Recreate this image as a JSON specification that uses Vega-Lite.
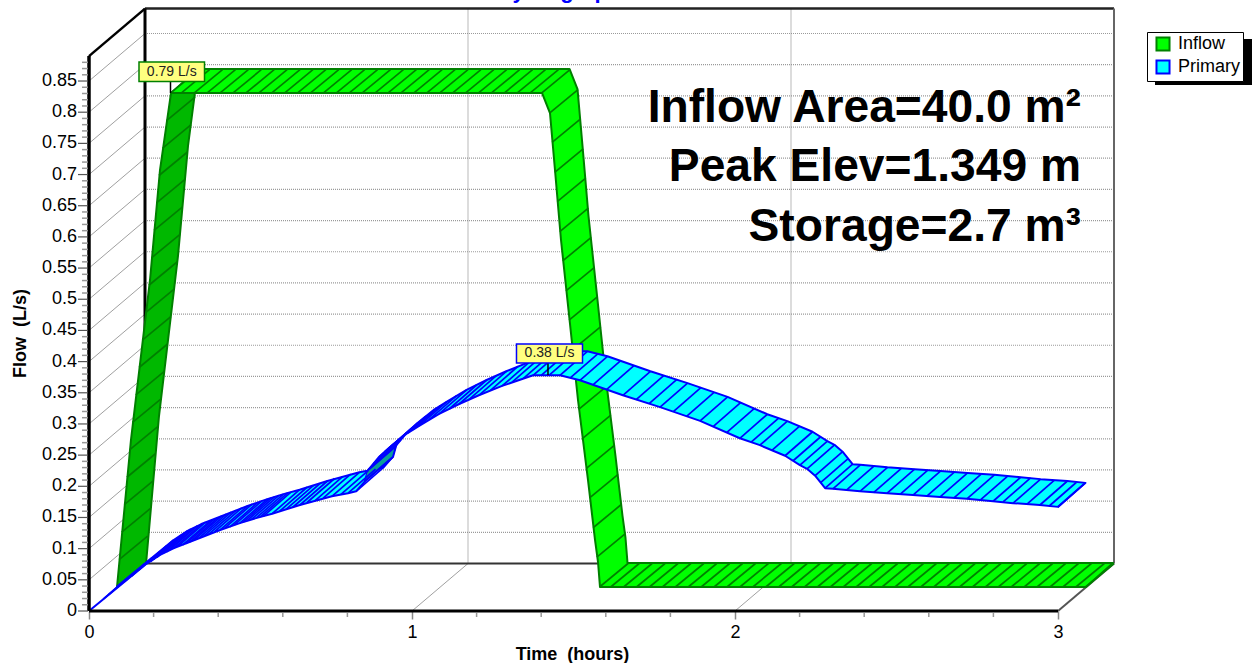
{
"$schema":"https://vega.github.io/schema/vega-lite/v6.json",
"width":1165,"height":611,
"autosize":{"type":"none"},
"padding":{"left":89,"top":0,"right":0,"bottom":52},
"background":"white",
"config":{"view":{"stroke":null},"font":"Liberation Sans"},
"data":{"values":[{"frame":1}]},
"datasets":{
"levels":[{"q":0.05},{"q":0.1},{"q":0.15},{"q":0.2},{"q":0.25},{"q":0.3},{"q":0.35},{"q":0.4},{"q":0.45},{"q":0.5},{"q":0.55},{"q":0.6},{"q":0.65},{"q":0.7},{"q":0.75},{"q":0.8},{"q":0.85}],
"flowLabels":[{"q":0},{"q":0.05},{"q":0.1},{"q":0.15},{"q":0.2},{"q":0.25},{"q":0.3},{"q":0.35},{"q":0.4},{"q":0.45},{"q":0.5},{"q":0.55},{"q":0.6},{"q":0.65},{"q":0.7},{"q":0.75},{"q":0.8},{"q":0.85}],
"hours":[{"t":1},{"t":2}],
"minorQ":[{"q":0.01},{"q":0.02},{"q":0.03},{"q":0.04},{"q":0.06},{"q":0.07},{"q":0.08},{"q":0.09},{"q":0.11},{"q":0.12},{"q":0.13},{"q":0.14},{"q":0.16},{"q":0.17},{"q":0.18},{"q":0.19},{"q":0.21},{"q":0.22},{"q":0.23},{"q":0.24},{"q":0.26},{"q":0.27},{"q":0.28},{"q":0.29},{"q":0.31},{"q":0.32},{"q":0.33},{"q":0.34},{"q":0.36},{"q":0.37},{"q":0.38},{"q":0.39},{"q":0.41},{"q":0.42},{"q":0.43},{"q":0.44},{"q":0.46},{"q":0.47},{"q":0.48},{"q":0.49},{"q":0.51},{"q":0.52},{"q":0.53},{"q":0.54},{"q":0.56},{"q":0.57},{"q":0.58},{"q":0.59},{"q":0.61},{"q":0.62},{"q":0.63},{"q":0.64},{"q":0.66},{"q":0.67},{"q":0.68},{"q":0.69},{"q":0.71},{"q":0.72},{"q":0.73},{"q":0.74},{"q":0.76},{"q":0.77},{"q":0.78},{"q":0.79},{"q":0.81},{"q":0.82},{"q":0.83},{"q":0.84},{"q":0.86},{"q":0.87},{"q":0.88}],
"minorT":[{"t":0.2},{"t":0.4},{"t":0.6},{"t":0.8},{"t":1.2},{"t":1.4},{"t":1.6},{"t":1.8},{"t":2.2},{"t":2.4},{"t":2.6},{"t":2.8}],
"inflowRise":[{"t":0.0867,"q":0.0385},{"t":0.13,"q":0.2743},{"t":0.1889,"q":0.5309},{"t":0.2198,"q":0.7073},{"t":0.2539,"q":0.8308},{"t":0.3375,"q":0.8693},{"t":0.3065,"q":0.7458},{"t":0.2755,"q":0.5694},{"t":0.2167,"q":0.3127},{"t":0.1765,"q":0.0754}],
"inflowBody":[{"s":"Inflow","t":0.2539,"q":0.8308},{"s":"Inflow","t":1.4025,"q":0.8308},{"s":"Inflow","t":1.4272,"q":0.7987},{"s":"Inflow","t":1.4427,"q":0.7073},{"s":"Inflow","t":1.4613,"q":0.595},{"s":"Inflow","t":1.4892,"q":0.4603},{"s":"Inflow","t":1.5139,"q":0.3384},{"s":"Inflow","t":1.5449,"q":0.2101},{"s":"Inflow","t":1.5666,"q":0.1139},{"s":"Inflow","t":1.5759,"q":0.0786},{"s":"Inflow","t":1.582,"q":0.0385},{"s":"Inflow","t":3.0867,"q":0.0385},{"s":"Inflow","t":3.1703,"q":0.077},{"s":"Inflow","t":1.6672,"q":0.077},{"s":"Inflow","t":1.661,"q":0.1171},{"s":"Inflow","t":1.6517,"q":0.1524},{"s":"Inflow","t":1.63,"q":0.2486},{"s":"Inflow","t":1.5991,"q":0.3769},{"s":"Inflow","t":1.5743,"q":0.4988},{"s":"Inflow","t":1.5464,"q":0.6335},{"s":"Inflow","t":1.5279,"q":0.7458},{"s":"Inflow","t":1.5124,"q":0.8372},{"s":"Inflow","t":1.4876,"q":0.8693},{"s":"Inflow","t":0.3375,"q":0.8693}],
"inflow":[{"t":0.0081,"q":0.044},{"t":0.0162,"q":0.088},{"t":0.0242,"q":0.132},{"t":0.0323,"q":0.176},{"t":0.0404,"q":0.22},{"t":0.0497,"q":0.264},{"t":0.0598,"q":0.308},{"t":0.0699,"q":0.352},{"t":0.08,"q":0.396},{"t":0.0902,"q":0.44},{"t":0.1003,"q":0.484},{"t":0.1085,"q":0.528},{"t":0.1162,"q":0.572},{"t":0.1239,"q":0.616},{"t":0.1316,"q":0.66},{"t":0.1429,"q":0.704},{"t":0.155,"q":0.748},{"t":0.1672,"q":0.792},{"t":0.2,"q":0.792},{"t":0.24,"q":0.792},{"t":0.28,"q":0.792},{"t":0.32,"q":0.792},{"t":0.36,"q":0.792},{"t":0.4,"q":0.792},{"t":0.44,"q":0.792},{"t":0.48,"q":0.792},{"t":0.52,"q":0.792},{"t":0.56,"q":0.792},{"t":0.6,"q":0.792},{"t":0.64,"q":0.792},{"t":0.68,"q":0.792},{"t":0.72,"q":0.792},{"t":0.76,"q":0.792},{"t":0.8,"q":0.792},{"t":0.84,"q":0.792},{"t":0.88,"q":0.792},{"t":0.92,"q":0.792},{"t":0.96,"q":0.792},{"t":1.0,"q":0.792},{"t":1.04,"q":0.792},{"t":1.08,"q":0.792},{"t":1.12,"q":0.792},{"t":1.16,"q":0.792},{"t":1.2,"q":0.792},{"t":1.24,"q":0.792},{"t":1.28,"q":0.792},{"t":1.3158,"q":0.792},{"t":1.3406,"q":0.76},{"t":1.3486,"q":0.713},{"t":1.3566,"q":0.665},{"t":1.3644,"q":0.618},{"t":1.3724,"q":0.57},{"t":1.3815,"q":0.523},{"t":1.3915,"q":0.475},{"t":1.4012,"q":0.428},{"t":1.411,"q":0.38},{"t":1.4205,"q":0.333},{"t":1.4308,"q":0.285},{"t":1.4421,"q":0.238},{"t":1.4538,"q":0.19},{"t":1.4647,"q":0.143},{"t":1.4755,"q":0.095},{"t":1.4871,"q":0.048},{"t":1.4954,"q":0},{"t":1.53,"q":0},{"t":1.57,"q":0},{"t":1.61,"q":0},{"t":1.65,"q":0},{"t":1.69,"q":0},{"t":1.73,"q":0},{"t":1.77,"q":0},{"t":1.81,"q":0},{"t":1.85,"q":0},{"t":1.89,"q":0},{"t":1.93,"q":0},{"t":1.97,"q":0},{"t":2.01,"q":0},{"t":2.05,"q":0},{"t":2.09,"q":0},{"t":2.13,"q":0},{"t":2.17,"q":0},{"t":2.21,"q":0},{"t":2.25,"q":0},{"t":2.29,"q":0},{"t":2.33,"q":0},{"t":2.37,"q":0},{"t":2.41,"q":0},{"t":2.45,"q":0},{"t":2.49,"q":0},{"t":2.53,"q":0},{"t":2.57,"q":0},{"t":2.61,"q":0},{"t":2.65,"q":0},{"t":2.69,"q":0},{"t":2.73,"q":0},{"t":2.77,"q":0},{"t":2.81,"q":0},{"t":2.85,"q":0},{"t":2.89,"q":0},{"t":2.93,"q":0},{"t":2.97,"q":0},{"t":3,"q":0}],
"primaryBody":[{"s":"Primary","t":0,"q":0},{"s":"Primary","t":0.176,"q":0.075},{"s":"Primary","t":0.22,"q":0.09},{"s":"Primary","t":0.263,"q":0.101},{"s":"Primary","t":0.313,"q":0.111},{"s":"Primary","t":0.406,"q":0.13},{"s":"Primary","t":0.467,"q":0.141},{"s":"Primary","t":0.517,"q":0.149},{"s":"Primary","t":0.567,"q":0.156},{"s":"Primary","t":0.653,"q":0.17},{"s":"Primary","t":0.752,"q":0.184},{"s":"Primary","t":0.802,"q":0.189},{"s":"Primary","t":0.827,"q":0.192},{"s":"Primary","t":0.854,"q":0.208},{"s":"Primary","t":0.864,"q":0.226},{"s":"Primary","t":0.898,"q":0.247},{"s":"Primary","t":0.932,"q":0.263},{"s":"Primary","t":0.985,"q":0.285},{"s":"Primary","t":1.022,"q":0.297},{"s":"Primary","t":1.084,"q":0.316},{"s":"Primary","t":1.146,"q":0.332},{"s":"Primary","t":1.207,"q":0.346},{"s":"Primary","t":1.279,"q":0.361},{"s":"Primary","t":1.375,"q":0.378},{"s":"Primary","t":1.424,"q":0.378},{"s":"Primary","t":1.458,"q":0.378},{"s":"Primary","t":1.52,"q":0.37},{"s":"Primary","t":1.653,"q":0.346},{"s":"Primary","t":1.768,"q":0.327},{"s":"Primary","t":1.892,"q":0.305},{"s":"Primary","t":2.015,"q":0.277},{"s":"Primary","t":2.077,"q":0.266},{"s":"Primary","t":2.155,"q":0.249},{"s":"Primary","t":2.201,"q":0.234},{"s":"Primary","t":2.223,"q":0.228},{"s":"Primary","t":2.248,"q":0.217},{"s":"Primary","t":2.279,"q":0.197},{"s":"Primary","t":2.303,"q":0.196},{"s":"Primary","t":2.387,"q":0.192},{"s":"Primary","t":2.471,"q":0.189},{"s":"Primary","t":2.551,"q":0.186},{"s":"Primary","t":2.635,"q":0.183},{"s":"Primary","t":2.718,"q":0.18},{"s":"Primary","t":2.799,"q":0.176},{"s":"Primary","t":2.861,"q":0.173},{"s":"Primary","t":2.944,"q":0.17},{"s":"Primary","t":3,"q":0.167},{"s":"Primary","t":3.085,"q":0.2055},{"s":"Primary","t":3.029,"q":0.2085},{"s":"Primary","t":2.946,"q":0.2115},{"s":"Primary","t":2.884,"q":0.2145},{"s":"Primary","t":2.803,"q":0.2185},{"s":"Primary","t":2.72,"q":0.2215},{"s":"Primary","t":2.636,"q":0.2245},{"s":"Primary","t":2.556,"q":0.2275},{"s":"Primary","t":2.472,"q":0.2305},{"s":"Primary","t":2.388,"q":0.2345},{"s":"Primary","t":2.364,"q":0.2355},{"s":"Primary","t":2.333,"q":0.2555},{"s":"Primary","t":2.308,"q":0.2665},{"s":"Primary","t":2.286,"q":0.2725},{"s":"Primary","t":2.24,"q":0.2875},{"s":"Primary","t":2.162,"q":0.3045},{"s":"Primary","t":2.1,"q":0.3155},{"s":"Primary","t":1.977,"q":0.3435},{"s":"Primary","t":1.853,"q":0.3655},{"s":"Primary","t":1.738,"q":0.3845},{"s":"Primary","t":1.605,"q":0.4085},{"s":"Primary","t":1.543,"q":0.4165},{"s":"Primary","t":1.509,"q":0.4165},{"s":"Primary","t":1.46,"q":0.4165},{"s":"Primary","t":1.364,"q":0.3995},{"s":"Primary","t":1.292,"q":0.3845},{"s":"Primary","t":1.231,"q":0.3705},{"s":"Primary","t":1.169,"q":0.3545},{"s":"Primary","t":1.107,"q":0.3355},{"s":"Primary","t":1.07,"q":0.3235},{"s":"Primary","t":1.017,"q":0.3015},{"s":"Primary","t":0.983,"q":0.2855},{"s":"Primary","t":0.949,"q":0.2645},{"s":"Primary","t":0.939,"q":0.2465},{"s":"Primary","t":0.912,"q":0.2305},{"s":"Primary","t":0.887,"q":0.2275},{"s":"Primary","t":0.837,"q":0.2225},{"s":"Primary","t":0.738,"q":0.2085},{"s":"Primary","t":0.652,"q":0.1945},{"s":"Primary","t":0.602,"q":0.1875},{"s":"Primary","t":0.552,"q":0.1795},{"s":"Primary","t":0.491,"q":0.1685},{"s":"Primary","t":0.398,"q":0.1495},{"s":"Primary","t":0.348,"q":0.1395},{"s":"Primary","t":0.305,"q":0.1285},{"s":"Primary","t":0.261,"q":0.1135},{"s":"Primary","t":0.085,"q":0.0385}],
"primaryFold":[{"t":0.8545,"q":0.2085},{"t":0.9412,"q":0.247},{"t":0.9505,"q":0.2646},{"t":0.8638,"q":0.2261}],
"primary":[{"t":0.044,"q":0.019},{"t":0.06,"q":0.026},{"t":0.088,"q":0.038},{"t":0.11,"q":0.047},{"t":0.132,"q":0.056},{"t":0.155,"q":0.066},{"t":0.176,"q":0.075},{"t":0.19,"q":0.079},{"t":0.2,"q":0.083},{"t":0.21,"q":0.086},{"t":0.22,"q":0.09},{"t":0.23,"q":0.093},{"t":0.24,"q":0.095},{"t":0.25,"q":0.098},{"t":0.263,"q":0.101},{"t":0.276,"q":0.104},{"t":0.29,"q":0.106},{"t":0.3,"q":0.108},{"t":0.313,"q":0.111},{"t":0.326,"q":0.114},{"t":0.34,"q":0.117},{"t":0.355,"q":0.12},{"t":0.37,"q":0.123},{"t":0.388,"q":0.127},{"t":0.406,"q":0.13},{"t":0.42,"q":0.133},{"t":0.436,"q":0.135},{"t":0.45,"q":0.138},{"t":0.467,"q":0.141},{"t":0.478,"q":0.143},{"t":0.49,"q":0.145},{"t":0.503,"q":0.147},{"t":0.517,"q":0.149},{"t":0.53,"q":0.151},{"t":0.54,"q":0.152},{"t":0.567,"q":0.156},{"t":0.59,"q":0.16},{"t":0.61,"q":0.163},{"t":0.63,"q":0.166},{"t":0.653,"q":0.17},{"t":0.675,"q":0.174},{"t":0.7,"q":0.177},{"t":0.725,"q":0.181},{"t":0.752,"q":0.184},{"t":0.78,"q":0.187},{"t":0.802,"q":0.189},{"t":0.827,"q":0.192},{"t":0.854,"q":0.208},{"t":0.864,"q":0.226},{"t":0.88,"q":0.236},{"t":0.898,"q":0.247},{"t":0.915,"q":0.255},{"t":0.932,"q":0.263},{"t":0.958,"q":0.274},{"t":0.985,"q":0.285},{"t":1.003,"q":0.291},{"t":1.022,"q":0.297},{"t":1.053,"q":0.307},{"t":1.084,"q":0.316},{"t":1.115,"q":0.324},{"t":1.146,"q":0.332},{"t":1.176,"q":0.339},{"t":1.207,"q":0.346},{"t":1.243,"q":0.354},{"t":1.279,"q":0.361},{"t":1.31,"q":0.367},{"t":1.345,"q":0.373},{"t":1.375,"q":0.378},{"t":1.4,"q":0.378},{"t":1.424,"q":0.378},{"t":1.458,"q":0.378},{"t":1.49,"q":0.374},{"t":1.52,"q":0.37},{"t":1.561,"q":0.363},{"t":1.602,"q":0.355},{"t":1.653,"q":0.346},{"t":1.694,"q":0.339},{"t":1.735,"q":0.333},{"t":1.768,"q":0.327},{"t":1.81,"q":0.32},{"t":1.85,"q":0.312},{"t":1.892,"q":0.305},{"t":1.933,"q":0.296},{"t":1.974,"q":0.286},{"t":2.015,"q":0.277},{"t":2.05,"q":0.271},{"t":2.077,"q":0.266},{"t":2.115,"q":0.258},{"t":2.155,"q":0.249},{"t":2.18,"q":0.241},{"t":2.201,"q":0.234},{"t":2.223,"q":0.228},{"t":2.248,"q":0.217},{"t":2.265,"q":0.206},{"t":2.279,"q":0.197},{"t":2.303,"q":0.196},{"t":2.345,"q":0.194},{"t":2.387,"q":0.192},{"t":2.429,"q":0.19},{"t":2.471,"q":0.189},{"t":2.511,"q":0.187},{"t":2.551,"q":0.186},{"t":2.593,"q":0.184},{"t":2.635,"q":0.183},{"t":2.677,"q":0.181},{"t":2.718,"q":0.18},{"t":2.759,"q":0.178},{"t":2.799,"q":0.176},{"t":2.83,"q":0.175},{"t":2.861,"q":0.173},{"t":2.903,"q":0.171},{"t":2.944,"q":0.17},{"t":2.972,"q":0.168},{"t":3,"q":0.167}]
},
"layer":[
{"data":{"name":"levels"},"mark":{"type":"rule","color":"#9a9a9a","strokeWidth":1.2,"strokeDash":[1,1],"xOffset":56,"x2Offset":56,"yOffset":-47.5},
 "encoding":{
  "x":{"datum":0,"type":"quantitative","scale":{"domain":[0,3.6068],"nice":false,"zero":false},
   "axis":{"values":[0,1,2,3],"format":"~g","domain":false,"grid":false,"ticks":true,"tickSize":8,"tickColor":"#888888","tickWidth":1.5,"labelFontSize":18,"labelFont":"Liberation Sans","labelColor":"#000000","labelPadding":4,"labelFlush":false,"labelOverlap":false,"title":"Time\u00a0\u00a0(hours)","titleFont":"Liberation Sans","titleFontSize":18,"titleFontWeight":"bold","titleColor":"#000000","titleX":483,"titleY":48,"titleBaseline":"alphabetic","titleAnchor":"middle"}},
  "x2":{"datum":3},
  "y":{"field":"q","type":"quantitative","scale":{"domain":[0,0.97995],"nice":false,"zero":false},
   "axis":{"domain":false,"grid":false,"ticks":false,"labels":false,"title":"Flow\u00a0\u00a0(L/s)","titleFont":"Liberation Sans","titleFontSize":18,"titleFontWeight":"bold","titleColor":"#000000","titleX":-64,"titleY":333,"titleBaseline":"alphabetic","titleAnchor":"middle","titleAngle":-90}}
 }},
{"data":{"name":"levels"},"mark":{"type":"rule","color":"#a0a0a0","strokeWidth":1,"x2Offset":56,"y2Offset":-47.5},
 "encoding":{"x":{"datum":0,"type":"quantitative"},"x2":{"datum":0},"y":{"field":"q","type":"quantitative"},"y2":{"field":"q"}}},
{"data":{"name":"hours"},"mark":{"type":"rule","color":"#8a8a8a","strokeWidth":1.2,"strokeDash":[1,1],"xOffset":56,"yOffset":-47.5,"y2Offset":-47.5},
 "encoding":{"x":{"field":"t","type":"quantitative"},"y":{"datum":0,"type":"quantitative"},"y2":{"datum":0.89}}},
{"data":{"name":"hours"},"mark":{"type":"rule","color":"#a0a0a0","strokeWidth":1,"x2Offset":56,"y2Offset":-47.5},
 "encoding":{"x":{"field":"t","type":"quantitative"},"x2":{"field":"t"},"y":{"datum":0,"type":"quantitative"},"y2":{"datum":0}}},
{"mark":{"type":"rule","color":"#333333","strokeWidth":2,"xOffset":56,"x2Offset":56,"yOffset":-47.5},"encoding":{"x":{"datum":0,"type":"quantitative"},"x2":{"datum":3},"y":{"datum":0,"type":"quantitative"}}},
{"mark":{"type":"rule","color":"#222222","strokeWidth":2.5,"xOffset":56,"x2Offset":56,"yOffset":-47.5},"encoding":{"x":{"datum":0,"type":"quantitative"},"x2":{"datum":3},"y":{"datum":0.89,"type":"quantitative"}}},
{"mark":{"type":"rule","color":"#000000","strokeWidth":3,"xOffset":56,"yOffset":-47.5,"y2Offset":-47.5},"encoding":{"x":{"datum":0,"type":"quantitative"},"y":{"datum":0,"type":"quantitative"},"y2":{"datum":0.89}}},
{"mark":{"type":"rule","color":"#666666","strokeWidth":2,"xOffset":56,"yOffset":-47.5,"y2Offset":-47.5},"encoding":{"x":{"datum":3,"type":"quantitative"},"y":{"datum":0,"type":"quantitative"},"y2":{"datum":0.89}}},
{"mark":{"type":"rule","color":"#000000","strokeWidth":2.5,"x2Offset":56,"y2Offset":-47.5},"encoding":{"x":{"datum":0,"type":"quantitative"},"x2":{"datum":0},"y":{"datum":0.89,"type":"quantitative"},"y2":{"datum":0.89}}},
{"mark":{"type":"rule","color":"#555555","strokeWidth":2,"x2Offset":56,"y2Offset":-47.5},"encoding":{"x":{"datum":3,"type":"quantitative"},"x2":{"datum":3},"y":{"datum":0,"type":"quantitative"},"y2":{"datum":0}}},
{"data":{"name":"inflowRise"},"mark":{"type":"line","fill":"#00b800","stroke":"#008000","strokeWidth":2},
 "encoding":{"x":{"field":"t","type":"quantitative"},"y":{"field":"q","type":"quantitative"},"order":{"value":null}}},
{"data":{"name":"inflowBody"},"mark":{"type":"line","strokeWidth":2,"strokeJoin":"round"},
 "encoding":{"x":{"field":"t","type":"quantitative"},"y":{"field":"q","type":"quantitative"},"order":{"value":null},
  "fill":{"field":"s","type":"nominal","scale":{"domain":["Inflow","Primary"],"range":["#00ff00","#00ffff"]},
   "legend":{"title":null,"orient":"none","legendX":1058,"legendY":32,"symbolType":"square","symbolSize":170,"symbolStrokeWidth":2,"symbolOffset":4,"labelOffset":6,"labelFont":"Liberation Sans","labelFontSize":18,"labelColor":"#000000","fillColor":"#ffffff","strokeColor":"#000000","padding":3,"rowPadding":1}},
  "stroke":{"field":"s","type":"nominal","scale":{"domain":["Inflow","Primary"],"range":["#008000","#0000ff"]},
   "legend":{"title":null,"orient":"none","legendX":1058,"legendY":32,"symbolType":"square","symbolSize":170,"symbolStrokeWidth":2,"symbolOffset":4,"labelOffset":6,"labelFont":"Liberation Sans","labelFontSize":18,"labelColor":"#000000","fillColor":"#ffffff","strokeColor":"#000000","padding":3,"rowPadding":1}}}},
{"data":{"name":"inflow"},"mark":{"type":"rule","color":"#008000","strokeWidth":1.7,"xOffset":27.5,"yOffset":-24,"x2Offset":56,"y2Offset":-47.5},
 "encoding":{"x":{"field":"t","type":"quantitative"},"x2":{"field":"t"},"y":{"field":"q","type":"quantitative"},"y2":{"field":"q"}}},
{"data":{"name":"primaryBody"},"mark":{"type":"line","strokeWidth":2,"strokeJoin":"round"},
 "encoding":{"x":{"field":"t","type":"quantitative"},"y":{"field":"q","type":"quantitative"},"order":{"value":null},
  "fill":{"field":"s","type":"nominal"},"stroke":{"field":"s","type":"nominal"}}},
{"data":{"name":"primaryFold"},"mark":{"type":"line","fill":"#0c9c9c","stroke":"#0000ff","strokeWidth":2},
 "encoding":{"x":{"field":"t","type":"quantitative"},"y":{"field":"q","type":"quantitative"},"order":{"value":null}}},
{"data":{"name":"primary"},"mark":{"type":"rule","color":"#0000ff","strokeWidth":1.7,"x2Offset":27.5,"y2Offset":-24},
 "encoding":{"x":{"field":"t","type":"quantitative"},"x2":{"field":"t"},"y":{"field":"q","type":"quantitative"},"y2":{"field":"q"}}},
{"mark":{"type":"rule","color":"#000000","strokeWidth":3.5},"encoding":{"x":{"datum":0,"type":"quantitative"},"y":{"datum":0,"type":"quantitative"},"y2":{"datum":0.89}}},
{"mark":{"type":"rule","color":"#000000","strokeWidth":3},"encoding":{"x":{"datum":0,"type":"quantitative"},"x2":{"datum":3},"y":{"datum":0,"type":"quantitative"}}},
{"data":{"name":"minorQ"},"mark":{"type":"rule","color":"#999999","strokeWidth":1.5,"xOffset":-7,"x2Offset":-1},
 "encoding":{"x":{"datum":0,"type":"quantitative"},"x2":{"datum":0},"y":{"field":"q","type":"quantitative"}}},
{"data":{"name":"flowLabels"},"mark":{"type":"rule","color":"#555555","strokeWidth":1.2,"xOffset":-11,"x2Offset":-1},
 "encoding":{"x":{"datum":0,"type":"quantitative"},"x2":{"datum":0},"y":{"field":"q","type":"quantitative"}}},
{"data":{"name":"flowLabels"},"mark":{"type":"text","font":"Liberation Sans","fontSize":18,"color":"#000000","align":"right","baseline":"middle","xOffset":-12},
 "encoding":{"x":{"datum":0,"type":"quantitative"},"y":{"field":"q","type":"quantitative"},"text":{"field":"q","type":"quantitative","format":"~g"}}},
{"data":{"name":"minorT"},"mark":{"type":"rule","color":"#999999","strokeWidth":1.5,"yOffset":2,"y2Offset":6},
 "encoding":{"x":{"field":"t","type":"quantitative"},"y":{"datum":0,"type":"quantitative"},"y2":{"datum":0}}},
{"mark":{"type":"rule","color":"#000000","strokeWidth":1.5},"encoding":{"x":{"datum":0.2523,"type":"quantitative"},"y":{"datum":0.8485,"type":"quantitative"},"y2":{"datum":0.8308}}},
{"mark":{"type":"rect","fill":"#ffff80","stroke":"#008000","strokeWidth":1.5},"encoding":{"x":{"datum":0.1548,"type":"quantitative"},"x2":{"datum":0.3576},"y":{"datum":0.8805,"type":"quantitative"},"y2":{"datum":0.8493}}},
{"mark":{"type":"text","text":"0.79 L/s","font":"Liberation Sans","fontSize":14,"color":"#222222","align":"center","baseline":"middle"},"encoding":{"x":{"datum":0.2562,"type":"quantitative"},"y":{"datum":0.8649,"type":"quantitative"}}},
{"mark":{"type":"rule","color":"#000000","strokeWidth":1.5},"encoding":{"x":{"datum":1.421,"type":"quantitative"},"y":{"datum":0.3978,"type":"quantitative"},"y2":{"datum":0.3785}}},
{"mark":{"type":"rect","fill":"#ffff80","stroke":"#0000ff","strokeWidth":1.5},"encoding":{"x":{"datum":1.3235,"type":"quantitative"},"x2":{"datum":1.5279},"y":{"datum":0.4282,"type":"quantitative"},"y2":{"datum":0.3978}}},
{"mark":{"type":"text","text":"0.38 L/s","font":"Liberation Sans","fontSize":14,"color":"#222222","align":"center","baseline":"middle"},"encoding":{"x":{"datum":1.4257,"type":"quantitative"},"y":{"datum":0.413,"type":"quantitative"}}},
{"mark":{"type":"text","text":"Inflow Area=40.0 m²","font":"Liberation Sans","fontSize":46.2,"fontWeight":"bold","color":"#000000","align":"right","baseline":"alphabetic"},"encoding":{"x":{"datum":3.0712,"type":"quantitative"},"y":{"datum":0.784,"type":"quantitative"}}},
{"mark":{"type":"text","text":"Peak Elev=1.349 m","font":"Liberation Sans","fontSize":46.2,"fontWeight":"bold","color":"#000000","align":"right","baseline":"alphabetic"},"encoding":{"x":{"datum":3.0712,"type":"quantitative"},"y":{"datum":0.69,"type":"quantitative"}}},
{"mark":{"type":"text","text":"Storage=2.7 m³","font":"Liberation Sans","fontSize":46.2,"fontWeight":"bold","color":"#000000","align":"right","baseline":"alphabetic"},"encoding":{"x":{"datum":3.0712,"type":"quantitative"},"y":{"datum":0.594,"type":"quantitative"}}},
{"mark":{"type":"text","text":"Hydrograph","font":"Liberation Sans","fontSize":22,"fontWeight":"bold","color":"#0000ff","align":"center","baseline":"alphabetic"},"encoding":{"x":{"datum":1.455,"type":"quantitative"},"y":{"datum":0.9824,"type":"quantitative"}}},
{"mark":{"type":"rect","fill":"#000000"},"encoding":{"x":{"datum":3.3003,"type":"quantitative"},"x2":{"datum":3.6006},"y":{"datum":0.9174,"type":"quantitative"},"y2":{"datum":0.8436}}}
]
}
